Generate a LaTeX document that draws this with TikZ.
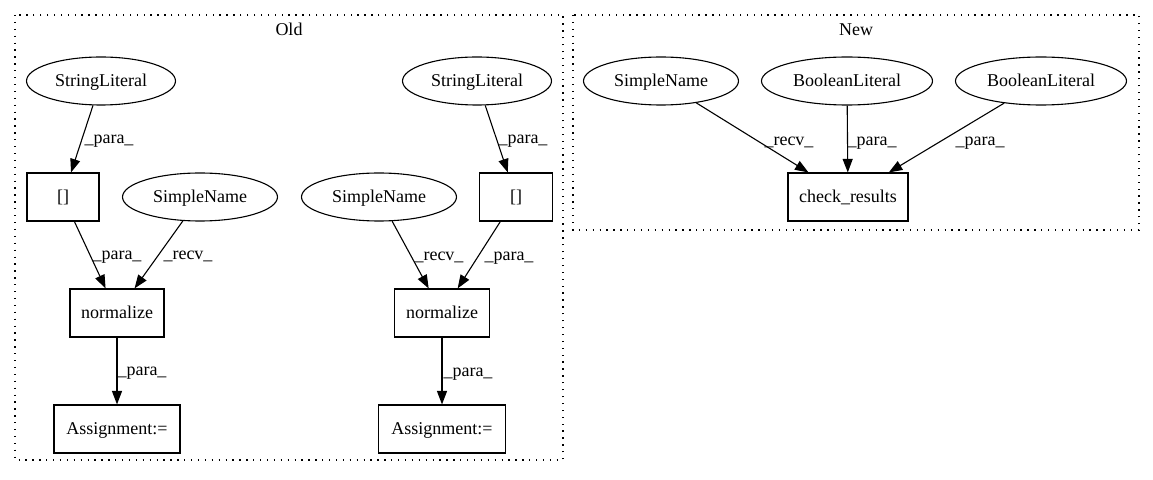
\documentclass[tikz,border=0pt]{standalone}
\usepackage{fontspec}
\setmainfont{Liberation Serif}
\usetikzlibrary{shapes.geometric,arrows.meta}
\begin{document}
\begin{tikzpicture}[x=1bp,y=-1bp,
  every node/.style={font=\fontsize{18bp}{21bp}\selectfont, text height=13bp, text depth=2bp, inner sep=0pt},
  ell/.style={draw, ellipse, line width=1.1bp, minimum height=48bp},
  box/.style={draw, rectangle, line width=1.1bp, minimum height=48bp},
  edge/.style={draw, line width=1.1bp, -{Triangle[length=13.5bp,width=10bp]}},
  lbl/.style={},
  cluster/.style={draw, line width=1.1bp, dash pattern=on 1.3bp off 5.6bp}
]
\useasboundingbox (0,0) rectangle (1153,480);
% clusters
\draw[cluster] (15,15) rectangle (563,460);
\draw[cluster] (573,15) rectangle (1139,230);
\node (oldlbl) at (289,30) {Old};
\node (newlbl) at (856,30) {New};

% Old, left
\node[ell, minimum width=149bp] (sl1) at (101,81) {StringLiteral};
\node[box, minimum width=72bp] (br1) at (63,197) {[]};
\node[ell, minimum width=155bp] (sn1) at (200,197) {SimpleName};
\node[box, minimum width=94bp] (nz1) at (117,313) {normalize};
\node[box, minimum width=126bp] (as1) at (117,429) {Assignment:=};

% Old, right
\node[ell, minimum width=149bp] (sl2) at (477,81) {StringLiteral};
\node[ell, minimum width=155bp] (sn2) at (379,197) {SimpleName};
\node[box, minimum width=73bp] (br2) at (516,197) {[]};
\node[box, minimum width=95bp] (nz2) at (442,313) {normalize};
\node[box, minimum width=127bp] (as2) at (442,429) {Assignment:=};

% New
\node[ell, minimum width=155bp] (sn3) at (661,81) {SimpleName};
\node[ell, minimum width=171bp] (bl1) at (847,81) {BooleanLiteral};
\node[ell, minimum width=171bp] (bl2) at (1041,81) {BooleanLiteral};
\node[box, minimum width=120bp] (cr) at (848,197) {check\_results};

% edges
\draw[edge] (sl1) -- (br1);
\draw[edge] (br1) -- (nz1);
\draw[edge] (sn1) -- (nz1);
\draw[edge] (nz1) -- (as1);
\draw[edge] (sl2) -- (br2);
\draw[edge] (sn2) -- (nz2);
\draw[edge] (br2) -- (nz2);
\draw[edge] (nz2) -- (as2);
\draw[edge] (sn3) -- (cr);
\draw[edge] (bl1) -- (cr);
\draw[edge] (bl2) -- (cr);

% edge labels
\node[lbl] (l1) at (109,138) {\_para\_};
\node[lbl] (l2) at (523,138) {\_para\_};
\node[lbl] (l3) at (117,254) {\_para\_};
\node[lbl] (l4) at (188,254) {\_recv\_};
\node[lbl] (l5) at (142,370) {\_para\_};
\node[lbl] (l6) at (439,255) {\_recv\_};
\node[lbl] (l7) at (509,255) {\_para\_};
\node[lbl] (l8) at (468,371) {\_para\_};
\node[lbl] (l9) at (789,140) {\_recv\_};
\node[lbl] (l10) at (872,140) {\_para\_};
\node[lbl] (l11) at (980,140) {\_para\_};
\end{tikzpicture}
\end{document}
